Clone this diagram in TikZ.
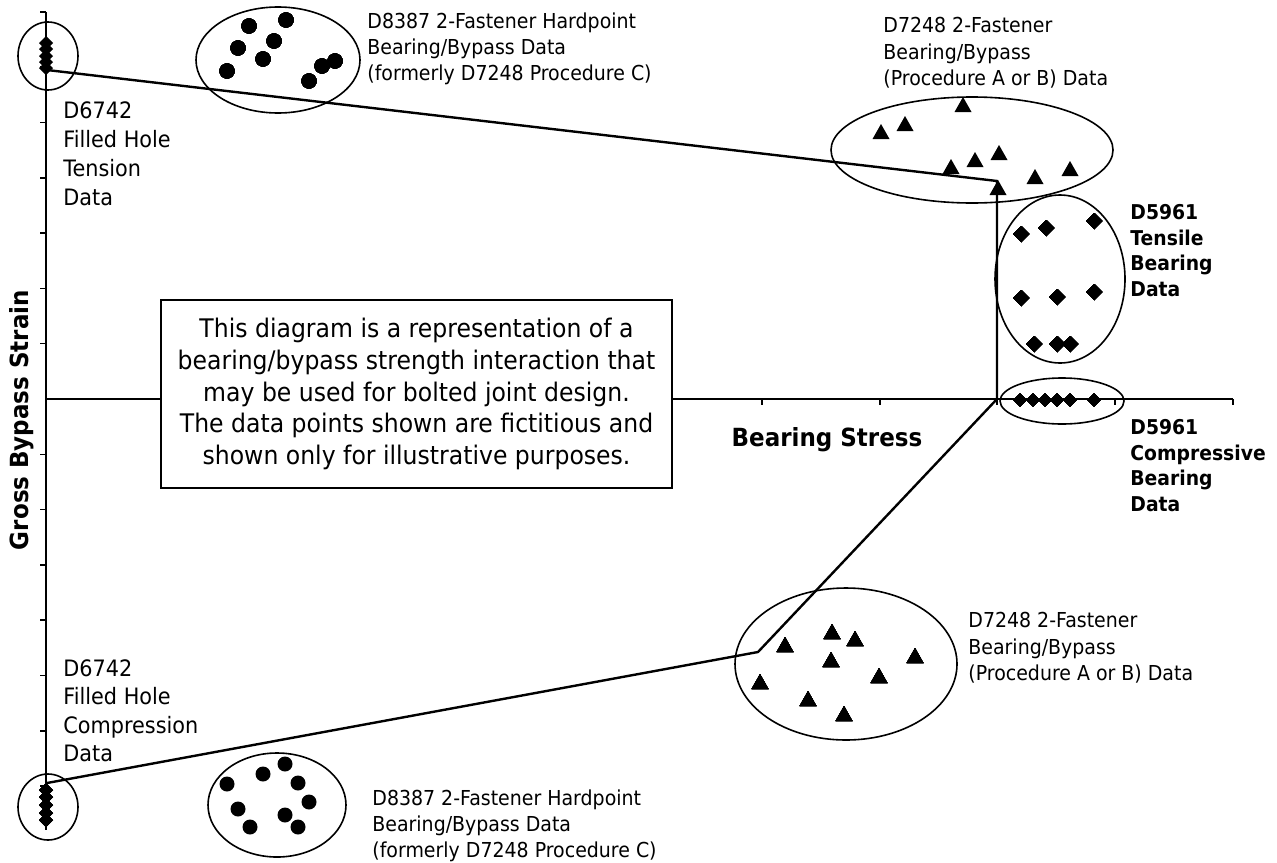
\documentclass[tikz,border=0pt]{standalone}
\usepackage{fontspec}
\setmainfont{DejaVu Sans}[FakeStretch=0.92]
\usetikzlibrary{shapes.geometric}

\tikzset{
    grp/.style={draw, ellipse, line width=0.8pt, inner sep=0pt},
    lbl/.style={anchor=north west, align=left, inner sep=0pt, font=\fontsize{10.3}{13.2}\selectfont},
    boldlbl/.style={anchor=north west, align=left, inner sep=0pt, font=\fontsize{10.2}{12.8}\selectfont\bfseries},
    envelope/.style={line width=1.2pt, line join=miter},
    axisline/.style={line width=0.75pt},
}
\newcommand{\markdia}[3]{\fill (#1,#2) +(0,-#3) -- +(#3,0) -- +(0,#3) -- +(-#3,0) -- cycle;}
\newcommand{\marktri}[2]{\fill (#1,#2) +(0,-8) -- +(8.5,7) -- +(-8.5,7) -- cycle;}

\begin{document}
\begin{tikzpicture}[x=0.5pt, y=-0.5pt]
    \useasboundingbox (0,0) rectangle (1277,862);
    %% axes and ticks
    \draw[axisline] (46,12) -- (46,830);
    \draw[axisline] (46,399) -- (1233,399);
    \foreach \k in {1,...,7} {
        \draw[axisline] (40,399-55.3*\k) -- (46,399-55.3*\k);
        \draw[axisline] (40,399+55.3*\k) -- (46,399+55.3*\k);
    }
    \foreach \x in {762,880,997,1115,1233}
        \draw[axisline] (\x,399) -- (\x,405);
    %% note box
    \node[draw, fill=white, line width=0.75pt, minimum width=255.5pt, minimum height=94pt,
          align=center, font=\fontsize{12.8}{15.8}\selectfont] (note) at (416.5,394)
        {This diagram is a representation of a\\bearing/bypass strength interaction that\\may be used for bolted joint design.\\The data points shown are fictitious and\\shown only for illustrative purposes.};
    %% axis titles
    \node[rotate=90, font=\fontsize{12.5}{15}\selectfont\bfseries] (yTitle) at (22,420) {Gross Bypass Strain};
    \node[font=\fontsize{12.5}{15}\selectfont\bfseries] (xTitle) at (827,440) {Bearing Stress};
    %% data groups
    \node[grp, minimum width=30pt, minimum height=34pt] (tensHole) at (48,56) {};
    \node[grp, minimum width=30pt, minimum height=33pt] (compHole) at (48,807) {};
    \node[grp, minimum width=82pt, minimum height=53pt] (topDots) at (278,60) {};
    \node[grp, minimum width=69pt, minimum height=52pt] (botDots) at (277,805) {};
    \node[grp, minimum width=141pt, minimum height=53pt] (topTri) at (972,150) {};
    \node[grp, minimum width=111pt, minimum height=76pt] (botTri) at (846,664) {};
    \node[grp, minimum width=65pt, minimum height=84pt] (tensBear) at (1060,279) {};
    \node[grp, minimum width=62pt, minimum height=23pt] (compBear) at (1062,401) {};
    %% data points
    \foreach \y in {43,49,56,62,68} \markdia{46}{\y}{7}
    \foreach \y in {790,797,805,813,820} \markdia{46}{\y}{7}
    \foreach \x/\y in {249/26,286/20,238/48,274/41,263/59,227/71,335/61,322/66,309/81}
        \fill (\x,\y) circle (3.75pt);
    \foreach \x/\y in {227/784,263/774,285/764,298/783,309/802,238/809,285/815,250/827,298/827}
        \fill (\x,\y) circle (3.75pt);
    \foreach \x/\y in {963/105,905/124,881/132,999/153,975/160,951/167,1070/169,1035/177,998/188}
        \marktri{\x}{\y}
    \foreach \x/\y in {785/645,832/632,855/639,831/660,915/656,760/682,879/676,808/699,844/714}
        \marktri{\x}{\y}
    \foreach \x/\y in {1021/234,1046/228,1094/221,1021/298,1057/297,1094/292,1034/344,1057/344,1070/344}
        \markdia{\x}{\y}{8}
    \foreach \x in {1020,1033,1045,1057,1070,1094} \markdia{\x}{400}{6.5}
    %% interaction envelope
    \coordinate (tensEnd) at (47,70);
    \coordinate (apex) at (997,181);
    \coordinate (origin) at (997,399);
    \coordinate (knee) at (758,652);
    \coordinate (compEnd) at (47,783);
    \draw[envelope] (tensEnd) -- (apex) -- (origin) -- (knee) -- (compEnd);
    %% labels
    \node[lbl, font=\fontsize{11.3}{14.5}\selectfont] (tensHoleTxt) at (63,101) {D6742\\Filled Hole\\Tension\\Data};
    \node[lbl, font=\fontsize{11.3}{14.3}\selectfont] (compHoleTxt) at (63,659) {D6742\\Filled Hole\\Compression\\Data};
    \node[lbl] (topDotsTxt) at (367,12) {D8387 2-Fastener Hardpoint\\Bearing/Bypass Data\\(formerly D7248 Procedure C)};
    \node[lbl] (botDotsTxt) at (372,789) {D8387 2-Fastener Hardpoint\\Bearing/Bypass Data\\(formerly D7248 Procedure C)};
    \node[lbl] (topTriTxt) at (883,17) {D7248 2-Fastener\\Bearing/Bypass\\(Procedure A or B) Data};
    \node[lbl] (botTriTxt) at (968,612) {D7248 2-Fastener\\Bearing/Bypass\\(Procedure A or B) Data};
    \node[boldlbl] (tensBearTxt) at (1130,204) {D5961\\Tensile\\Bearing\\Data};
    \node[boldlbl] (compBearTxt) at (1130,419) {D5961\\Compressive\\Bearing\\Data};
\end{tikzpicture}
\end{document}
